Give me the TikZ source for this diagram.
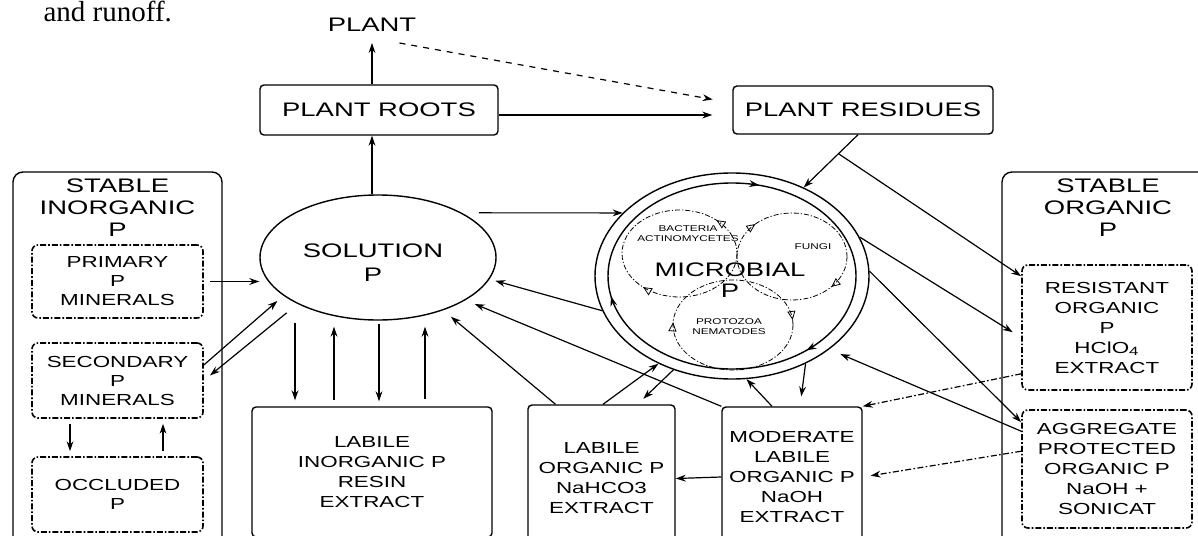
\documentclass[tikz,border=0pt]{standalone}
\usepackage{fontspec}
\setmainfont{Liberation Sans}[FakeStretch=1.4]
\newfontfamily\capfont{Liberation Serif}
\usetikzlibrary{arrows.meta,shapes.geometric,decorations.markings}

\begin{document}
\begin{tikzpicture}[x=0.5pt, y=-0.5pt, >={Stealth[length=5pt,width=3.4pt]}, line width=0.6pt,
  otri/.tip={Triangle[open,length=4.5pt,width=4pt]},
  bigfont/.style={font=\fontsize{9.8}{11}\selectfont},
  pool/.style={draw, line width=0.7pt, rounded corners=2pt, inner sep=0pt, align=center, font=\fontsize{8}{10}\selectfont},
  outerbox/.style={draw, line width=0.7pt, rounded corners=5pt, inner sep=0pt},
  fractionbox/.style={draw, line width=0.8pt, rounded corners=3pt, dash pattern=on 3pt off 1pt on 0.8pt off 1pt, inner sep=0pt, align=center, font=\fontsize{8}{9.5}\selectfont},
  microgroup/.style={line width=0.4pt, dash pattern=on 2.5pt off 1pt on 0.6pt off 1pt},
  smalltxt/.style={font=\fontsize{4.2}{5}\selectfont, align=center, inner sep=0pt},
  dashdot/.style={dash pattern=on 3pt off 1.2pt on 0.8pt off 1.2pt}]
\useasboundingbox (0,0) rectangle (1198,535);

% caption line above the figure
\node[anchor=base west, inner sep=0pt, font=\capfont\fontsize{14.5}{15}\selectfont] (runoff) at (43,22) {and runoff.};

% plant
\node[bigfont] (plant) at (372,25) {PLANT};
\node[pool, bigfont, minimum width=119pt, minimum height=25pt] (roots) at (379,110) {PLANT ROOTS};
\node[pool, bigfont, minimum width=130pt, minimum height=24pt] (residues) at (863,110) {PLANT RESIDUES};

% solution and microbial pools
\node[draw, ellipse, line width=0.7pt, minimum width=118pt, minimum height=62.5pt, inner sep=0pt] (sol) at (378,257.5) {};
\node[bigfont, align=center] (soltxt) at (373,263) {SOLUTION\\[1pt]P};
\node[draw, ellipse, line width=0.7pt, minimum width=137pt, minimum height=103pt, inner sep=0pt] (mic) at (732,276) {};
\draw[line width=0.7pt, postaction={decorate, decoration={markings,
    mark=at position 0.137 with {\arrow{>}},
    mark=at position 0.47 with {\arrow{>}},
    mark=at position 0.79 with {\arrow{>}}}}]
  (732,276) ellipse [x radius=124, y radius=93];
\draw[microgroup, postaction={decorate, decoration={markings,
    mark=at position 0.37 with {\arrow{otri}},
    mark=at position 0.872 with {\arrowreversed{otri}}}}]
  (679.5,253.5) ellipse [x radius=57.5, y radius=43.5];
\draw[microgroup, postaction={decorate, decoration={markings,
    mark=at position 0.114 with {\arrow{otri}},
    mark=at position 0.625 with {\arrow{otri}}}}]
  (792,256.5) ellipse [x radius=55, y radius=43.5];
\draw[microgroup, postaction={decorate, decoration={markings,
    mark=at position 0.508 with {\arrow{otri}},
    mark=at position 0.985 with {\arrow{otri}}}}]
  (733,325) ellipse [x radius=60, y radius=45];
\node[bigfont, align=center, font=\fontsize{9.8}{10.5}\selectfont] (mictxt) at (730,280.5) {MICROBIAL\\P};
\node[smalltxt] (bacttxt) at (688,234) {BACTERIA\\ACTINOMYCETES};
\node[smalltxt] (fungtxt) at (813,247) {FUNGI};
\node[smalltxt] (prototxt) at (729,327) {PROTOZOA\\NEMATODES};

% stable inorganic P
\node[outerbox, minimum width=104.5pt, minimum height=188pt] (sinorg) at (117.5,360) {};
\node[bigfont, align=center] (sinorgt) at (117.5,207.5) {STABLE\\INORGANIC\\P};
\node[fractionbox, minimum width=85.5pt, minimum height=36.5pt] (prim) at (117.5,281.5) {PRIMARY\\P\\MINERALS};
\node[fractionbox, minimum width=85.5pt, minimum height=37.5pt] (sec) at (117.5,380.5) {SECONDARY\\P\\MINERALS};
\node[fractionbox, minimum width=85.5pt, minimum height=37.5pt] (occ) at (117.5,494.5) {OCCLUDED\\P};

% labile pools
\node[pool, minimum width=120pt, minimum height=65pt] (labinorg) at (372,472) {LABILE\\INORGANIC P\\RESIN\\EXTRACT};
\node[pool, minimum width=73.5pt, minimum height=73.5pt] (laborg) at (601.5,478.5) {LABILE\\ORGANIC P\\NaHCO3\\EXTRACT};
\node[pool, minimum width=70pt, minimum height=70pt] (modorg) at (792,477) {MODERATE\\LABILE\\ORGANIC P\\NaOH\\EXTRACT};

% stable organic P
\node[outerbox, minimum width=106.5pt, minimum height=188pt] (sorg) at (1108.5,360) {};
\node[bigfont, align=center] (sorgt) at (1108,207.5) {STABLE\\ORGANIC\\P};
\node[fractionbox, minimum width=85pt, minimum height=62.5pt, font=\fontsize{8}{10}\selectfont] (resist) at (1107,327.5) {RESISTANT\\ORGANIC\\P\\HClO\textsubscript{4}\\EXTRACT};
\node[fractionbox, minimum width=85pt, minimum height=59pt, font=\fontsize{8}{10}\selectfont] (aggr) at (1107,469) {AGGREGATE\\PROTECTED\\ORGANIC P\\NaOH +\\SONICAT};

% flows at the top
\draw[->, shorten >=2pt] (roots.north -| plant) -- (plant);
\draw[->] (sol.north -| plant) -- (roots.south -| plant);
\draw[->, shorten >=10pt] ([yshift=-2.5pt]roots.east) -- ([yshift=-2.5pt]residues.west);
\draw[->, dashed, shorten >=10pt] ([xshift=-12pt,yshift=-2pt]plant.south east) -- ([yshift=3.5pt]residues.west);
\draw[->] ([xshift=-2.5pt]residues.south) -- coordinate[pos=0.36] (br) (mic.51);
\draw[->] (br) -- ([yshift=-6pt]resist.north west);

% stable inorganic <-> solution
\draw[->, shorten <=3pt] (prim.east) -- (prim.east -| sol.west);
\draw[->, shorten >=4pt] ([yshift=7.75pt]sec.east) -- (sol.202);
\draw[->, shorten <=7pt, shorten >=4pt] (sol.210) -- (sec.east);
\draw[->, shorten <=2.5pt, shorten >=2.5pt] ([xshift=-23.75pt]sec.south) -- ([xshift=-23.75pt]occ.north);
\draw[->, shorten <=2.5pt, shorten >=2.5pt] ([xshift=22.75pt]occ.north) -- ([xshift=22.75pt]sec.south);

% solution <-> labile inorganic
\coordinate (v1) at ([xshift=-38.5pt]labinorg.north);
\coordinate (v2) at ([xshift=-19pt]labinorg.north);
\coordinate (v3) at ([xshift=3.5pt]labinorg.north);
\coordinate (v4) at ([xshift=26.5pt]labinorg.north);
\draw[->, shorten <=1pt, shorten >=3pt] (v1 |- sol.south) -- (v1);
\draw[<-, shorten <=3pt, shorten >=3pt] (v2 |- sol.south) -- (v2);
\draw[->, shorten <=1.5pt, shorten >=2.5pt] (v3 |- sol.south) -- (v3);
\draw[<-, shorten <=3pt, shorten >=3.5pt] (v4 |- sol.south) -- (v4);

% organic pools -> solution
\draw[->] ([xshift=8.5pt]sol.28) -- (mic.150);
\draw[->, shorten >=3pt] (mic.195) -- (sol.-11);
\draw[->, shorten >=5pt] ([xshift=-23pt]laborg.north) -- (sol.-39);
\draw[->, shorten >=5pt] (modorg.north west) -- (sol.-26);

% microbial <-> organic pools
\draw[->] ([xshift=0.75pt]laborg.north) -- (mic.230);
\draw[->, shorten >=4pt] (mic.238) -- ([xshift=18pt]laborg.north);
\draw[->, shorten >=5pt] (mic.-50) -- ([xshift=4pt]modorg.north);
\draw[->] ([xshift=-10pt]modorg.north) -- (mic.-82);
\draw[->] (modorg.west) -- (laborg.east);
\draw[->, shorten >=5pt] (mic.17) -- ([yshift=-5pt]resist.west);
\draw[->] (mic.2) -- ([yshift=-6.5pt]aggr.north west);
\draw[->, shorten >=6pt] ([yshift=-11pt]aggr.north west) -- (mic.-37);
\draw[->, dashdot] ([yshift=8.5pt]resist.south west) -- (modorg.north east);
\draw[->, dashdot, shorten >=4pt] ([yshift=-21pt]aggr.north west) -- (modorg.east);
\end{tikzpicture}
\end{document}
